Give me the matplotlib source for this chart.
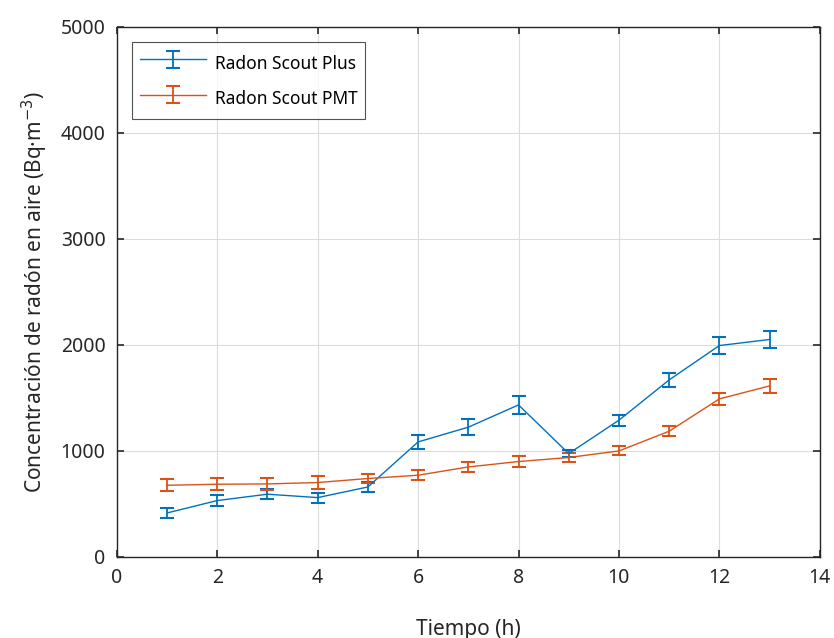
import matplotlib
matplotlib.use("Agg")
import matplotlib.pyplot as plt

# Tiempo (h)
tiempo = [1, 2, 3, 4, 5, 6, 7, 8, 9, 10, 11, 12, 13]

# Radon Scout Plus
plus_val = [415, 532, 592, 560, 660, 1085, 1224, 1434, 975, 1290, 1670, 1994, 2051]
plus_err = [45, 53, 47, 47, 44, 66, 75, 88, 35, 52, 68, 82, 82]

# Radon Scout PMT
pmt_val = [676, 686, 689, 702, 740, 771, 849, 900, 938, 1000, 1186, 1491, 1613]
pmt_err = [55, 57, 55, 57, 45, 47, 50, 55, 41, 42, 47, 60, 64]

plt.rcParams['font.family'] = ['Noto Sans', 'DejaVu Sans']

fig = plt.figure(figsize=(8.34, 6.38), dpi=100)
ax = fig.add_axes([0.140, 0.127, 0.843, 0.831])

blue = '#0072BD'
orange = '#D95319'

ax.errorbar(tiempo, plus_val, yerr=plus_err, color=blue, lw=1, elinewidth=1.3,
            capsize=5, capthick=1.5, label='Radon Scout Plus')
ax.errorbar(tiempo, pmt_val, yerr=pmt_err, color=orange, lw=1, elinewidth=1.3,
            capsize=5, capthick=1.5, label='Radon Scout PMT')

ax.set_xlim(0, 14)
ax.set_ylim(0, 5000)
ax.set_xticks(range(0, 15, 2))
ax.set_yticks(range(0, 5001, 1000))
ax.grid(True, color='#dcdcdc', lw=0.8)
ax.set_axisbelow(True)

for s in ax.spines.values():
    s.set_color('#262626')
    s.set_linewidth(1.0)
ax.tick_params(direction='in', length=5, width=1.2, colors='#262626',
               labelsize=14, top=True, right=True, pad=8)
for lab in ax.get_xticklabels() + ax.get_yticklabels():
    lab.set_color('#262626')

ax.set_xlabel('Tiempo (h)', fontsize=15, color='#262626', labelpad=22)
ax.set_ylabel('Concentración de radón en aire (Bq·m$^{-3}$)', fontsize=15,
              color='#262626', labelpad=8)

leg = ax.legend(loc='upper left', fontsize=12.5, frameon=True, fancybox=False,
                edgecolor='#262626', borderaxespad=0.9, handlelength=3.8,
                handleheight=1.9, borderpad=0.45, labelspacing=0.55,
                handletextpad=0.5)
leg.get_frame().set_linewidth(0.8)

fig.savefig('out.png', dpi=100)
